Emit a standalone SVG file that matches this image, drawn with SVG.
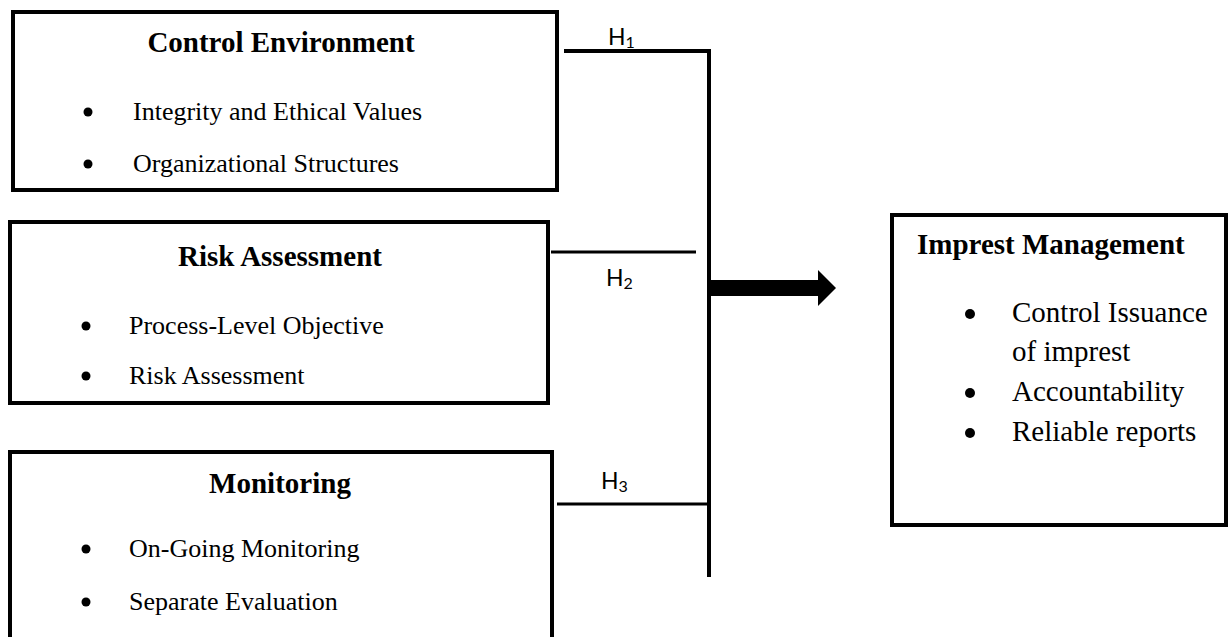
<svg xmlns="http://www.w3.org/2000/svg" width="1228" height="637" viewBox="0 0 1228 637">
<style>
.box{fill:#fff;stroke:#000;stroke-width:4}
.title{font-family:"Liberation Serif","Times New Roman",serif;font-weight:bold;font-size:29px;fill:#000}
.item{font-family:"Liberation Serif","Times New Roman",serif;font-size:26px;fill:#000}
.ri{font-size:29px}
.lab{font-family:Lato,"Liberation Sans",sans-serif;font-size:23px;fill:#000}
.sub{font-size:16px}
.ln{stroke:#000;fill:none}
</style>
<rect width="1228" height="637" fill="#fff"/>
<g id="control-environment">
<rect class="box" x="13" y="12" width="544" height="178"/>
<text class="title" x="281" y="52" text-anchor="middle">Control Environment</text>
<circle cx="88" cy="112" r="4.5"/>
<text class="item" x="133" y="120">Integrity and Ethical Values</text>
<circle cx="88" cy="164" r="4.5"/>
<text class="item" x="133" y="172">Organizational Structures</text>
</g>
<g id="risk-assessment">
<rect class="box" x="10" y="222" width="538" height="181"/>
<text class="title" x="280" y="266" text-anchor="middle">Risk Assessment</text>
<circle cx="86" cy="326" r="4.5"/>
<text class="item" x="129" y="334">Process-Level Objective</text>
<circle cx="86" cy="376" r="4.5"/>
<text class="item" x="129" y="384">Risk Assessment</text>
</g>
<g id="monitoring">
<rect class="box" x="10" y="452" width="542" height="210"/>
<text class="title" x="280" y="493" text-anchor="middle">Monitoring</text>
<circle cx="86" cy="549" r="4.5"/>
<text class="item" x="129" y="557">On-Going Monitoring</text>
<circle cx="86" cy="602" r="4.5"/>
<text class="item" x="129" y="610">Separate Evaluation</text>
</g>
<g id="imprest-management">
<rect class="box" x="892" y="215" width="334" height="310"/>
<text class="title" x="917" y="254">Imprest Management</text>
<circle cx="970" cy="314" r="5"/>
<text class="item ri" x="1012" y="322">Control Issuance</text>
<text class="item ri" x="1012" y="361">of imprest</text>
<circle cx="970" cy="393" r="5"/>
<text class="item ri" x="1012" y="401">Accountability</text>
<circle cx="970" cy="433" r="5"/>
<text class="item ri" x="1012" y="441">Reliable reports</text>
</g>
<g id="connectors">
<polyline class="ln" stroke-width="4" points="564,51 709,51 709,577"/>
<line class="ln" stroke-width="3" x1="551" y1="252" x2="696" y2="252"/>
<line class="ln" stroke-width="3" x1="557" y1="504" x2="709" y2="504"/>
<polygon points="709,280 818,280 818,270 836,288 818,306 818,296 709,296" fill="#000"/>
<text class="lab" x="608" y="45">H<tspan class="sub" dy="3">1</tspan></text>
<text class="lab" x="606" y="286">H<tspan class="sub" dy="3">2</tspan></text>
<text class="lab" x="601" y="489">H<tspan class="sub" dy="3">3</tspan></text>
</g>
</svg>
